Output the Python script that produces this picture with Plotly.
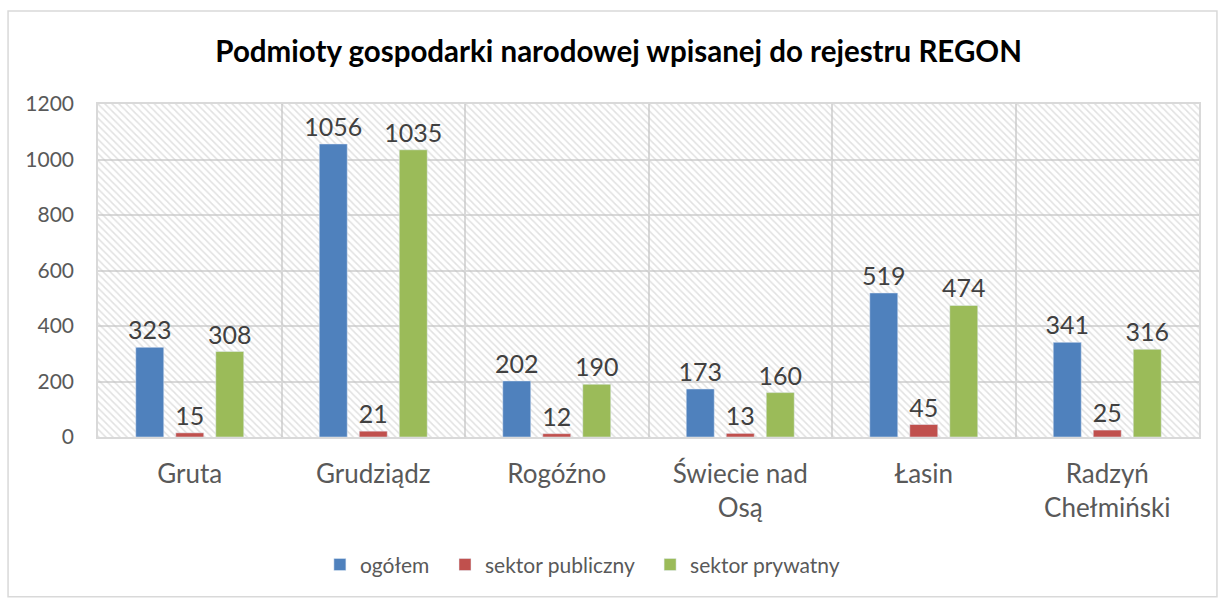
import plotly.graph_objects as go

categories = ["Gruta", "Grudziądz", "Rogóźno", "Świecie nad<br>Osą", "Łasin", "Radzyń<br>Chełmiński"]
ogolem = [323, 1056, 202, 173, 519, 341]
publiczny = [15, 21, 12, 13, 45, 25]
prywatny = [308, 1035, 190, 160, 474, 316]
y_ticks = [0, 200, 400, 600, 800, 1000, 1200]
y_max = 1200

FONT = "Lato"
fig = go.Figure()

# hatched plot-area background
fig.add_trace(go.Bar(
    x=categories, y=[y_max] * len(categories), width=1,
    marker=dict(color="rgba(0,0,0,0)", line=dict(width=0),
                pattern=dict(shape="\\", fgcolor="#c4c4c4", bgcolor="rgba(0,0,0,0)",
                             size=5, solidity=0.3)),
    showlegend=False, hoverinfo="skip", xaxis="x", yaxis="y",
))

series = [("ogółem", ogolem, "#4F81BD"),
          ("sektor publiczny", publiczny, "#C0504D"),
          ("sektor prywatny", prywatny, "#9BBB59")]
for name, vals, col in series:
    fig.add_trace(go.Bar(
        x=categories, y=vals, name=name + "\u00a0\u00a0", marker_color=col,
        text=[str(v) for v in vals], textposition="outside",
        textfont=dict(family=FONT, size=25, color="#404040"),
        cliponaxis=False, xaxis="x2", yaxis="y2",
    ))

axis_common = dict(showline=True, linecolor="#d9d9d9", linewidth=1.5, mirror=True)
fig.update_layout(
    width=1225, height=599,
    paper_bgcolor="white", plot_bgcolor="white",
    margin=dict(l=98, r=26, t=104, b=162),
    barmode="group", bargap=0.346, bargroupgap=0.3,
    uniformtext=dict(minsize=25, mode="show"),
    font=dict(family=FONT, color="#595959"),
    title=dict(text="<b>Podmioty gospodarki narodowej wpisanej do rejestru REGON</b>",
               x=0.505, xanchor="center", y=0.913, yanchor="middle",
               font=dict(family=FONT, size=29.5, color="black")),
    xaxis=dict(type="category", showgrid=True, gridcolor="#d9d9d9", gridwidth=1.5,
               tickson="boundaries", ticks="", tickfont=dict(size=26, color="#595959"),
               ticklabelstandoff=13, range=[-0.5, 5.5], **axis_common),
    yaxis=dict(range=[0, y_max], tickvals=y_ticks, showgrid=True, gridcolor="#d9d9d9",
               gridwidth=1.5, zeroline=False, tickfont=dict(size=21, color="#595959"),
               ticklabelstandoff=18, **axis_common),
    xaxis2=dict(type="category", overlaying="x", matches="x", visible=False,
                range=[-0.5, 5.5]),
    yaxis2=dict(overlaying="y", range=[0, y_max], visible=False),
    legend=dict(orientation="h", x=0.4445, xanchor="center", y=-0.384, yanchor="middle",
                font=dict(family=FONT, size=21, color="#595959"),
                itemwidth=30, tracegroupgap=0),
    shapes=[dict(type="rect", xref="paper", yref="paper",
                 x0=-0.0817, x1=1.0163, y0=-0.48, y1=1.279,
                 line=dict(color="#d9d9d9", width=1.5), fillcolor="rgba(0,0,0,0)",
                 layer="below")],
)

fig.write_html("out.html", config={"displayModeBar": False},
               post_script="document.body.style.margin='0';document.body.style.overflow='hidden';")
